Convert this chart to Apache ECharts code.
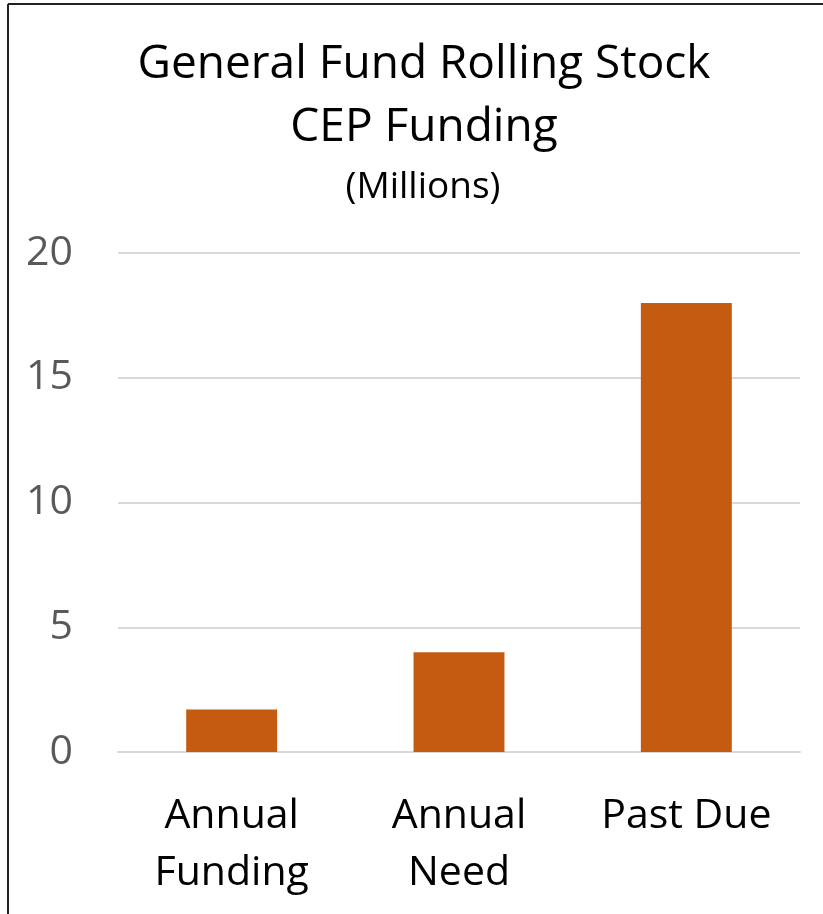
<!DOCTYPE html>
<html><head><meta charset="utf-8">
<script src="https://cdn.jsdelivr.net/npm/echarts@6/dist/echarts.min.js"></script>
<style>html,body{margin:0;padding:0;background:#fff}#c{width:823px;height:914px}</style>
</head><body><div id="c"></div>
<script>
const categories = ['Annual\nFunding', 'Annual\nNeed', 'Past Due'];
const values = [1.7, 4.0, 18.0];
const yTicks = {min: 0, max: 20, interval: 5};
const titleLine1 = 'General Fund Rolling Stock';
const titleLine2 = 'CEP Funding';
const subtitle = '(Millions)';

const chart = echarts.init(document.getElementById('c'));
const font = '"Open Sans", "Liberation Sans", sans-serif';
chart.setOption({
  animation: false,
  backgroundColor: '#fff',
  title: [
    {text: titleLine1, left: 419, textAlign: 'center', top: 37, textStyle: {fontFamily: font, fontSize: 46, fontWeight: 'normal', color: '#000'}},
    {text: titleLine2, left: 419, textAlign: 'center', top: 100, textStyle: {fontFamily: font, fontSize: 46, fontWeight: 'normal', color: '#000'}},
    {text: subtitle, left: 418, textAlign: 'center', top: 164, textStyle: {fontFamily: font, fontSize: 37, fontWeight: 'normal', color: '#000'}}
  ],
  graphic: [
    {type: 'line', shape: {x1: 8, y1: 4, x2: 823, y2: 4}, style: {stroke: '#222', lineWidth: 2}},
    {type: 'line', shape: {x1: 8, y1: 4, x2: 8, y2: 914}, style: {stroke: '#222', lineWidth: 2}}
  ],
  grid: {left: 118, right: 23, top: 253, bottom: 162},
  xAxis: {
    type: 'category', data: categories,
    axisLine: {show: true, lineStyle: {color: '#d9d9d9', width: 2}},
    axisTick: {show: false},
    axisLabel: {fontFamily: font, fontSize: 41, color: '#000', lineHeight: 57, margin: 36}
  },
  yAxis: {
    type: 'value', min: yTicks.min, max: yTicks.max, interval: yTicks.interval,
    axisLine: {show: false}, axisTick: {show: false},
    splitLine: {lineStyle: {color: '#d9d9d9', width: 2}},
    axisLabel: {fontFamily: font, fontSize: 41, color: '#595959', margin: 45}
  },
  series: [{type: 'bar', data: values, barWidth: '40%', itemStyle: {color: '#C55A11'}}]
});
</script></body></html>
